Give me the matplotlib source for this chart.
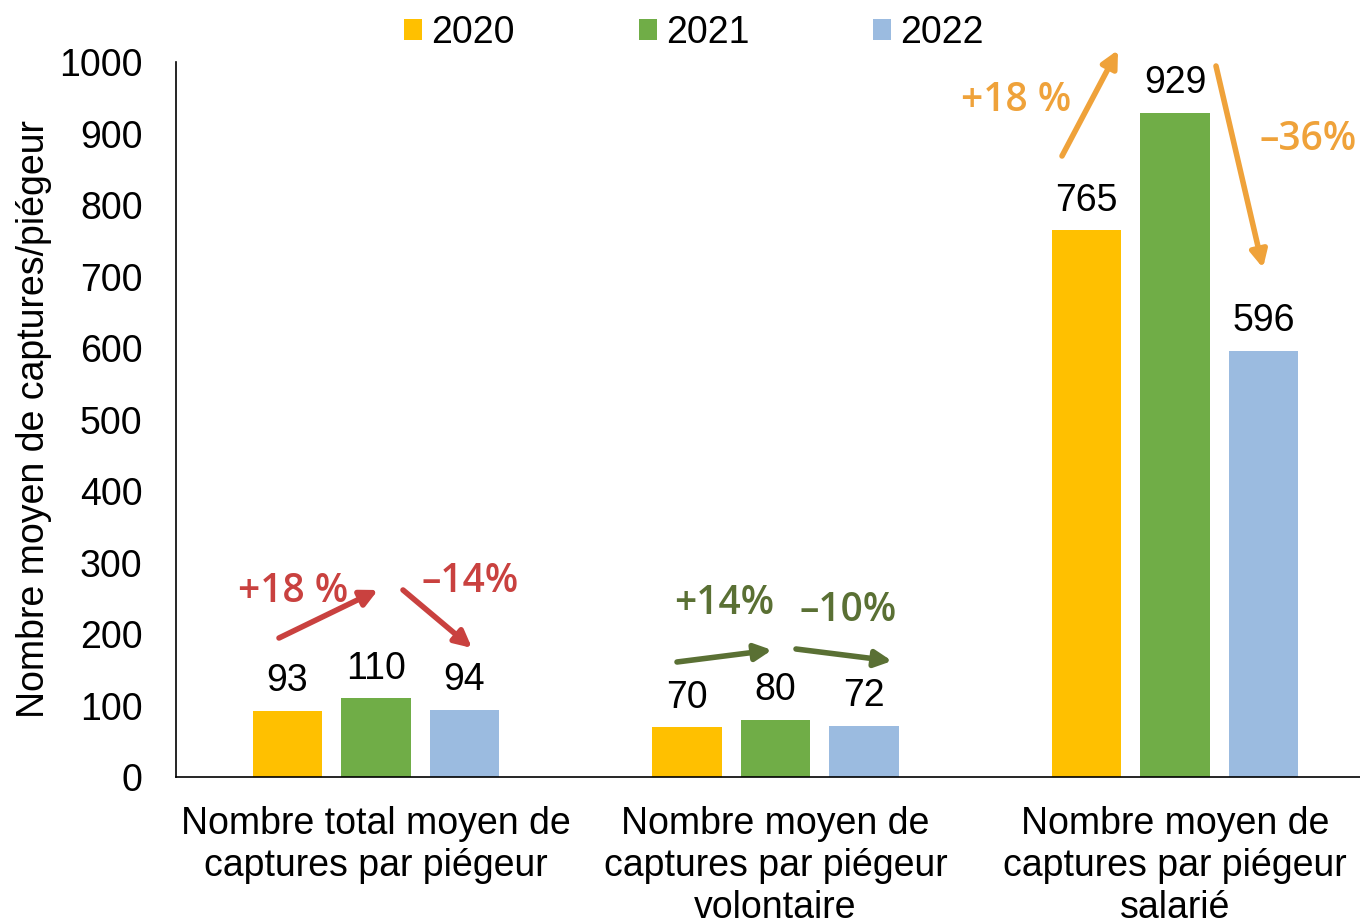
import matplotlib
matplotlib.use("Agg")
import matplotlib.pyplot as plt
import numpy as np

categories = [
    "Nombre total moyen de\ncaptures par piégeur",
    "Nombre moyen de\ncaptures par piégeur\nvolontaire",
    "Nombre moyen de\ncaptures par piégeur\nsalarié",
]
years = ["2020", "2021", "2022"]
values_2020 = [93, 70, 765]
values_2021 = [110, 80, 929]
values_2022 = [94, 72, 596]
colors = ["#FFC000", "#70AD47", "#9BBBE0"]

# change annotations: (text, colour)
changes_up = [("+18 %", "#C9413F"), ("+14%", "#5A7034"), ("+18 %", "#EFA23A")]
changes_down = [("\u201314%", "#C9413F"), ("\u201310%", "#5A7034"), ("\u201336%", "#EFA23A")]

plt.rcParams["font.family"] = ["Liberation Sans", "DejaVu Sans"]

FS = 27
W, H = 1360, 922
LEFT, BOTTOM, TOP = 176, 777, 62
XMIN, XMAX = -0.5006, 2.463

fig = plt.figure(figsize=(W / 100, H / 100), dpi=100)
ax = fig.add_axes([LEFT / W, 1 - BOTTOM / H, 1 - LEFT / W, (BOTTOM - TOP) / H])

x = np.arange(len(categories))
offset = 0.2215
width = 0.175
series = [values_2020, values_2021, values_2022]
for i, (vals, yr, c) in enumerate(zip(series, years, colors)):
    pos = x + (i - 1) * offset
    ax.bar(pos, vals, width=width, color=c, label=yr, zorder=2)
    for p, v in zip(pos, vals):
        ax.text(p, v + 16, f"{v}", ha="center", va="bottom", fontsize=FS, color="black")

ax.set_xlim(XMIN, XMAX)
ax.set_ylim(0, 1000)
ax.set_yticks(np.arange(0, 1001, 100))
ax.tick_params(axis="y", labelsize=FS, length=0, pad=24)
ax.tick_params(axis="x", labelsize=FS, length=0, pad=21)
ax.set_xticks(x)
ax.set_xticklabels(categories, linespacing=1.22)
for s in ["top", "right"]:
    ax.spines[s].set_visible(False)
for s in ["left", "bottom"]:
    ax.spines[s].set_linewidth(1.2)
    ax.spines[s].set_color("black")

ax.set_ylabel("Nombre moyen de captures/piégeur", fontsize=FS)
ax.yaxis.set_label_coords(-0.105, 0.5)

px_per_unit = (W - LEFT) / (XMAX - XMIN)
px_per_val = (BOTTOM - TOP) / 1000


def px2data(px, py):
    return XMIN + (px - LEFT) / px_per_unit, (BOTTOM - py) / px_per_val


def arrow(p0, p1, color):
    ax.annotate("", xy=px2data(*p1), xytext=px2data(*p0),
                arrowprops=dict(arrowstyle="-|>,head_length=1.0,head_width=0.5",
                                color=color, lw=4, shrinkA=0, shrinkB=0,
                                capstyle="round"),
                annotation_clip=False, zorder=5)


pct_font = dict(fontsize=28, fontweight="semibold", family=["Open Sans", "DejaVu Sans"],
                ha="center", va="center", clip_on=False)

# group 1
arrow((279, 638), (378, 590), changes_up[0][1])
arrow((403, 590), (472, 648), changes_down[0][1])
ax.text(*px2data(293, 592), changes_up[0][0], color=changes_up[0][1], **pct_font)
ax.text(*px2data(470, 582), changes_down[0][0], color=changes_down[0][1], **pct_font)

# group 2
arrow((677, 662), (772, 650), changes_up[1][1])
arrow((796, 649), (892, 661), changes_down[1][1])
ax.text(*px2data(724, 604), changes_up[1][0], color=changes_up[1][1], **pct_font)
ax.text(*px2data(848, 611), changes_down[1][0], color=changes_down[1][1], **pct_font)

# group 3
arrow((1062, 156), (1118, 50), changes_up[2][1])
arrow((1216, 66), (1263, 268), changes_down[2][1])
ax.text(*px2data(1016, 101), changes_up[2][0], color=changes_up[2][1], **pct_font)
ax.text(*px2data(1308, 140), changes_down[2][0], color=changes_down[2][1], **pct_font)

fig.legend(loc="center", bbox_to_anchor=(694 / W, 1 - 33 / H), ncol=3, frameon=False,
           fontsize=FS, handlelength=0.48, handleheight=0.48, handletextpad=0.25,
           columnspacing=3.3, borderpad=0)

fig.savefig("out.png", dpi=100)
